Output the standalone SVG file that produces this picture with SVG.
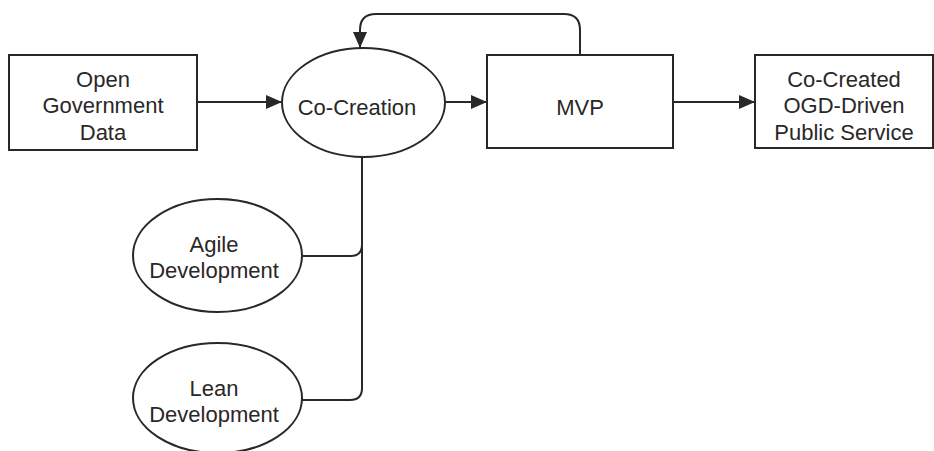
<svg xmlns="http://www.w3.org/2000/svg" width="934" height="451" viewBox="0 0 934 451">
  <style>
    .box { fill: #fff; stroke: #2a2727; stroke-width: 2; }
    .link { fill: none; stroke: #2a2727; stroke-width: 2; }
    .label { font-family: "Liberation Sans", Arial, sans-serif; font-size: 22px; fill: #2a2727; text-anchor: middle; }
  </style>
  <defs>
    <marker id="arrow" viewBox="0 0 16 14" refX="16" refY="7" markerWidth="16" markerHeight="14" markerUnits="userSpaceOnUse" orient="auto">
      <path d="M0,0 L16,7 L0,14 Z" fill="#2a2727"/>
    </marker>
  </defs>
  <rect width="934" height="451" fill="#fff"/>

  <g id="connectors">
    <path class="link" d="M197,102 H282" marker-end="url(#arrow)"/>
    <path class="link" d="M445,102 H487" marker-end="url(#arrow)"/>
    <path class="link" d="M673,102 H755" marker-end="url(#arrow)"/>
    <path class="link" d="M580,55 V30 Q580,14 564,14 H376 Q360,14 360,30 V48" marker-end="url(#arrow)"/>
    <path class="link" d="M362,157 V388 Q362,400 350,400 H302"/>
    <path class="link" d="M302,256 H351 Q362,256 362,244"/>
  </g>

  <g id="open-government-data">
    <rect class="box" x="9" y="55" width="188" height="95"/>
    <text class="label" x="103" y="87">Open</text>
    <text class="label" x="103" y="113">Government</text>
    <text class="label" x="103" y="140">Data</text>
  </g>

  <g id="co-creation">
    <ellipse class="box" cx="363.5" cy="102.5" rx="81.5" ry="54.5"/>
    <text class="label" x="357" y="115">Co-Creation</text>
  </g>

  <g id="mvp">
    <rect class="box" x="487" y="55" width="186" height="93"/>
    <text class="label" x="580" y="115">MVP</text>
  </g>

  <g id="co-created-service">
    <rect class="box" x="755" y="55" width="178" height="93"/>
    <text class="label" x="844" y="87">Co-Created</text>
    <text class="label" x="844" y="113">OGD-Driven</text>
    <text class="label" x="844" y="140">Public Service</text>
  </g>

  <g id="agile-development">
    <ellipse class="box" cx="217.5" cy="255.5" rx="84.5" ry="56.5"/>
    <text class="label" x="214" y="252">Agile</text>
    <text class="label" x="214" y="278">Development</text>
  </g>

  <g id="lean-development">
    <ellipse class="box" cx="217.5" cy="398" rx="84.5" ry="55"/>
    <text class="label" x="214" y="396">Lean</text>
    <text class="label" x="214" y="422">Development</text>
  </g>
</svg>
